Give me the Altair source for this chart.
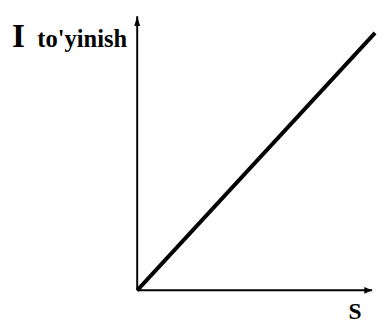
import altair as alt
import pandas as pd

# Saturation curve: current I grows linearly with S
s_vals = [0.0, 1.0125]
i_vals = [0.0, 1.0]

# axis extents (data units)
x_axis_end = 1.0
y_axis_end = 1.065

labels_text = ["I", "to'yinish", "S"]

X_DOMAIN = [-0.55, 1.0208]
Y_DOMAIN = [-0.1217, 1.0837]

xs = alt.Scale(domain=X_DOMAIN, nice=False, zero=False)
ys = alt.Scale(domain=Y_DOMAIN, nice=False, zero=False)

line_df = pd.DataFrame({"S": s_vals, "I": i_vals})
axes_df = pd.DataFrame({
    "x": [0.0, 0.0], "y": [0.0, 0.0],
    "x2": [x_axis_end, 0.0], "y2": [0.0, y_axis_end],
})
arrow_up = pd.DataFrame({"x": [0.0], "y": [y_axis_end]})
arrow_right = pd.DataFrame({"x": [x_axis_end], "y": [0.0]})

line = alt.Chart(line_df).mark_line(color="black", strokeWidth=4).encode(
    x=alt.X("S:Q", scale=xs, axis=None),
    y=alt.Y("I:Q", scale=ys, axis=None),
)

axes = alt.Chart(axes_df).mark_rule(color="black", strokeWidth=2).encode(
    x=alt.X("x:Q", scale=xs, axis=None),
    y=alt.Y("y:Q", scale=ys, axis=None),
    x2="x2:Q",
    y2="y2:Q",
)

up = alt.Chart(arrow_up).mark_point(
    shape="M0,0L0.6,2L-0.6,2Z", filled=True, color="black", size=100, opacity=1
).encode(
    x=alt.X("x:Q", scale=xs, axis=None),
    y=alt.Y("y:Q", scale=ys, axis=None),
)

right = alt.Chart(arrow_right).mark_point(
    shape="M0,0L-1.6,-0.7L-1.6,0.7Z", filled=True, color="black", size=100, opacity=1
).encode(
    x=alt.X("x:Q", scale=xs, axis=None),
    y=alt.Y("y:Q", scale=ys, axis=None),
)

font = "Liberation Serif"
t_I = alt.Chart(pd.DataFrame({"t": [labels_text[0]]})).mark_text(
    font=font, fontWeight="bold", fontSize=34, align="left", baseline="alphabetic", color="black"
).encode(text="t:N", x=alt.value(4), y=alt.value(36))

t_sat = alt.Chart(pd.DataFrame({"t": [labels_text[1]]})).mark_text(
    font=font, fontWeight="bold", fontSize=25, align="left", baseline="alphabetic", color="black"
).encode(text="t:N", x=alt.value(30), y=alt.value(36))

t_S = alt.Chart(pd.DataFrame({"t": [labels_text[2]]})).mark_text(
    font=font, fontWeight="bold", fontSize=24, align="left", baseline="alphabetic", color="black"
).encode(text="t:N", x=alt.value(348), y=alt.value(314))

chart = alt.layer(axes, line, up, right, t_I, t_sat, t_S).properties(
    width=377, height=317, padding=0,
    autosize=alt.AutoSizeParams(type="none"),
).configure(background="white").configure_view(stroke=None, strokeWidth=0)

chart.save("out.html", embed_options={"renderer": "svg", "actions": False})
